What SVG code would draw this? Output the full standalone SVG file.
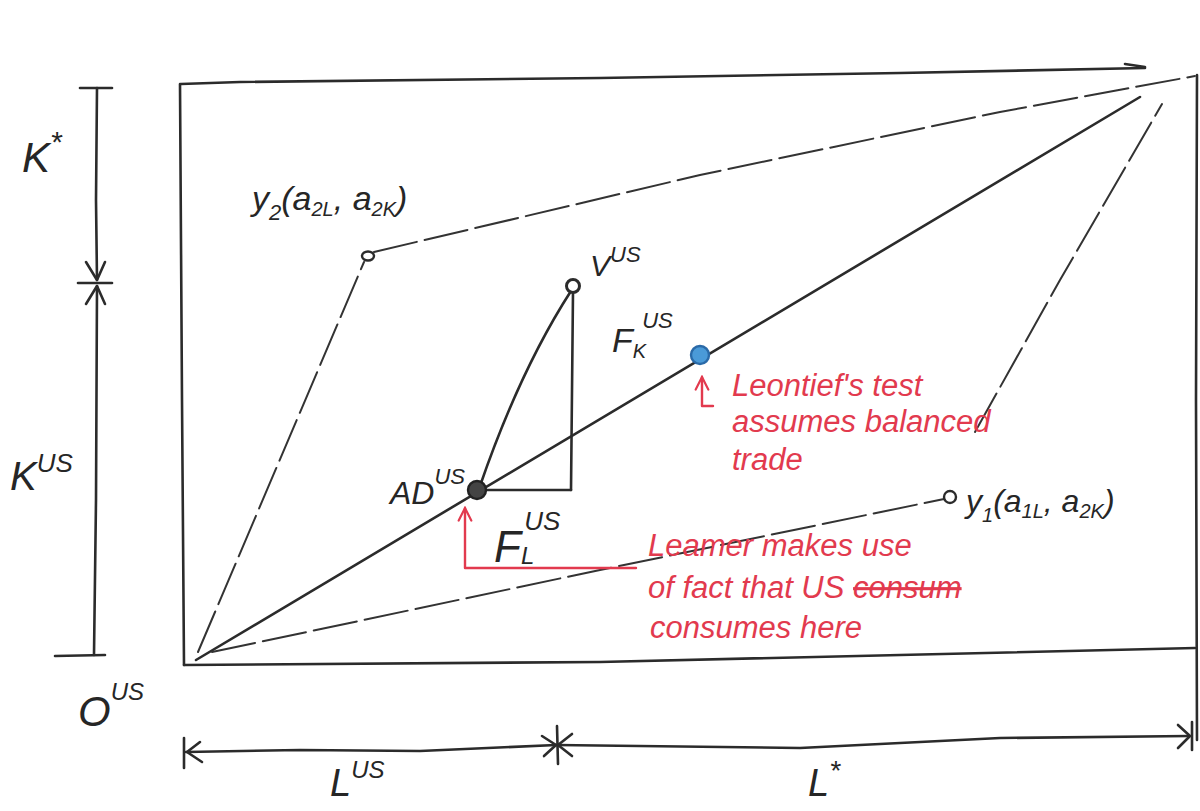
<svg xmlns="http://www.w3.org/2000/svg" width="1200" height="811" viewBox="0 0 1200 811">
<style>
.ink{fill:none;stroke:#2b2b2b;stroke-width:2.6;stroke-linecap:round;stroke-linejoin:round}
.dash{fill:none;stroke:#333;stroke-width:2;stroke-dasharray:44 8;stroke-linecap:round}
.red{fill:none;stroke:#e23a4e;stroke-width:2.4;stroke-linecap:round;stroke-linejoin:round}
.lab{font-family:"Liberation Sans",Arial,sans-serif;font-style:italic;fill:#262626}
.rtx{font-family:"Liberation Sans",Arial,sans-serif;font-style:italic;fill:#e23a4e;font-size:31px}
</style>
<defs>
<marker id="ahR" viewBox="0 0 20 20" refX="18" refY="10" markerWidth="18" markerHeight="18" markerUnits="userSpaceOnUse" orient="auto">
<path d="M4,3 L18,10 L4,17" fill="none" stroke="#e23a4e" stroke-width="2.4" stroke-linecap="round"/>
</marker>
</defs>
<rect width="1200" height="811" fill="#ffffff"/>

<g id="box">
<path class="ink" d="M181,84 L240,82 L600,78 L900,73 L1145,68"/>
<path class="ink" d="M1125,64 L1145,67"/>
<path class="ink" d="M180,84 L182,400 L184,665"/>
<path class="ink" d="M184,665 L600,662 L900,655 L1195,648"/>
<path class="ink" d="M1197,75 L1196,400 L1197,740"/>
</g>

<g id="connectors">
<path class="ink" d="M196,660 L1140,97"/>
<path class="dash" d="M198,652 L364,262"/>
<path class="dash" d="M374,252 L700,175 L1000,112 L1195,76"/>
<path class="dash" d="M212,652 L600,570 L944,499"/>
<path class="dash" d="M975,432 L1060,280 L1162,104"/>
<path class="ink" d="M480,486 Q520,370 571,291"/>
<path class="ink" d="M573,292 L571,490"/>
<path class="ink" d="M485,490 L571,490"/>
<path class="ink" d="M97,88 L96,200 L97,280"/>
<path class="ink" d="M97,286 L96,500 L94,655"/>
<path class="ink" d="M80,88 L112,88"/>
<path class="ink" d="M78,283 L112,283"/>
<path class="ink" d="M86,262 L97,280 L105,262"/>
<path class="ink" d="M86,304 L97,286 L105,304"/>
<path class="ink" d="M55,656 L105,655"/>
<path class="ink" d="M186,752 L300,750 L420,751 L556,745"/>
<path class="ink" d="M556,745 L800,748 L1000,738 L1189,736"/>
<path class="ink" d="M200,742 L187,752 L202,762"/>
<path class="ink" d="M184,738 L184,768"/>
<path class="ink" d="M542,736 L556,745 L544,756"/>
<path class="ink" d="M572,734 L558,745 L572,756"/>
<path class="ink" d="M557,726 L558,764"/>
<path class="ink" d="M1178,725 L1190,736 L1178,748"/>
<path class="ink" d="M1192,722 L1192,750"/>
<path class="red" d="M713,406 L702,406 L702,377" marker-end="url(#ahR)"/>
<path class="red" d="M636,568 L465,568 L465,508" marker-end="url(#ahR)"/>
</g>

<g id="Y2">
<ellipse cx="368" cy="256" rx="6" ry="4.5" fill="#fff" stroke="#2b2b2b" stroke-width="2.4"/>
<text class="lab" x="252" y="210" font-size="34">y<tspan font-size="22" dy="10">2</tspan><tspan dy="-10">(a</tspan><tspan font-size="20" dy="6">2L</tspan><tspan dy="-6">, a</tspan><tspan font-size="20" dy="6">2K</tspan><tspan dy="-6">)</tspan></text>
</g>

<g id="V">
<circle cx="573" cy="286" r="6.5" fill="#fff" stroke="#2b2b2b" stroke-width="3"/>
<text class="lab" x="590" y="276" font-size="30">V<tspan font-size="22" dy="-14">US</tspan></text>
</g>

<g id="FK">
<text class="lab" x="612" y="352" font-size="34">F<tspan font-size="20" dy="6">K</tspan><tspan font-size="22" dx="-4" dy="-30">US</tspan></text>
</g>

<g id="AD">
<circle cx="477" cy="490" r="9" fill="#444" stroke="#222" stroke-width="2.4"/>
<text class="lab" x="390" y="504" font-size="32">AD<tspan font-size="22" dy="-20">US</tspan></text>
</g>

<g id="FL">
<text class="lab" x="494" y="562" font-size="44">F<tspan font-size="24" dy="2">L</tspan><tspan font-size="26" dx="-10" dy="-34">US</tspan></text>
</g>

<g id="balanced">
<circle cx="700" cy="355" r="9" fill="#4a9ad8" stroke="#2a6aa8" stroke-width="2.4"/>
</g>

<g id="Y1">
<circle cx="950" cy="497" r="6" fill="#fff" stroke="#2b2b2b" stroke-width="2.4"/>
<text class="lab" x="966" y="512" font-size="32">y<tspan font-size="20" dy="10">1</tspan><tspan dy="-10">(a</tspan><tspan font-size="20" dy="6">1L</tspan><tspan dy="-6">, a</tspan><tspan font-size="20" dy="6">2K</tspan><tspan dy="-6">)</tspan></text>
</g>

<g id="axis-labels">
<text class="lab" x="22" y="172" font-size="42">K<tspan font-size="30" dy="-20">*</tspan></text>
<text class="lab" x="10" y="490" font-size="40">K<tspan font-size="26" dy="-18">US</tspan></text>
<text class="lab" x="78" y="726" font-size="42">O<tspan font-size="24" dy="-26">US</tspan></text>
<text class="lab" x="330" y="796" font-size="38">L<tspan font-size="24" dy="-18">US</tspan></text>
<text class="lab" x="808" y="796" font-size="38">L<tspan font-size="28" dy="-16">*</tspan></text>
</g>

<g id="leontief-note">
<text class="rtx" x="732" y="396">Leontief's test</text>
<text class="rtx" x="732" y="432">assumes balanced</text>
<text class="rtx" x="732" y="470">trade</text>
</g>

<g id="leamer-note">
<text class="rtx" x="648" y="556">Leamer makes use</text>
<text class="rtx" x="648" y="598">of fact that US <tspan text-decoration="line-through">consum</tspan></text>
<text class="rtx" x="650" y="638">consumes here</text>
</g>
</svg>
